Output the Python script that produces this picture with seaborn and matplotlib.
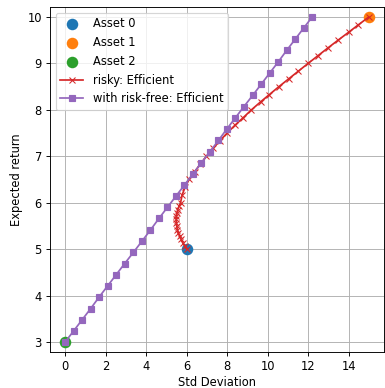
import numpy as np
import pandas as pd
import matplotlib
matplotlib.use("Agg")
import matplotlib.pyplot as plt
import seaborn as sns

# Individual assets
asset_names = ["Asset 0", "Asset 1", "Asset 2"]
asset_std = [6.0, 15.0, 0.0]
asset_ret = [5.0, 10.0, 3.0]

# Risky efficient frontier (std, return)
risky_std = [6.00, 5.90, 5.81, 5.73, 5.65, 5.59, 5.54, 5.51, 5.49, 5.48, 5.49, 5.52,
             5.56, 5.62, 5.70, 5.78, 5.92, 6.12, 6.40, 6.68, 6.98, 7.30, 7.63, 8.00,
             8.39, 8.79, 9.20, 9.65, 10.09, 10.56, 11.05, 11.51, 12.00, 12.50, 12.97,
             13.48, 14.00, 14.48, 15.00]
risky_ret = [5.00, 5.07, 5.14, 5.21, 5.28, 5.35, 5.42, 5.50, 5.57, 5.64, 5.71, 5.78,
             5.85, 5.92, 6.00, 6.17, 6.33, 6.50, 6.67, 6.83, 7.00, 7.17, 7.33, 7.50,
             7.67, 7.83, 8.00, 8.17, 8.33, 8.50, 8.67, 8.83, 9.00, 9.17, 9.33,
             9.50, 9.67, 9.83, 10.00]

# Efficient frontier with risk-free asset (std, return)
rf_std = [0.00, 0.42, 0.84, 1.26, 1.68, 2.10, 2.52, 2.94, 3.37, 3.79, 4.21, 4.63,
          5.05, 5.47, 5.89, 6.31, 6.73, 7.15, 7.57, 7.99, 8.41, 8.83, 9.26, 9.68,
          10.10, 10.52, 10.94, 11.36, 11.78, 12.20]
rf_ret = [3.00, 3.24, 3.48, 3.72, 3.97, 4.21, 4.45, 4.69, 4.93, 5.17, 5.41, 5.66,
          5.90, 6.14, 6.38, 6.62, 6.86, 7.10, 7.34, 7.59, 7.83, 8.07, 8.31, 8.55,
          8.79, 9.03, 9.28, 9.52, 9.76, 10.00]

DPI = 83
fig = plt.figure(figsize=(385 / DPI, 388 / DPI), dpi=DPI)
ax = fig.add_axes([50 / 385, (388 - 352.3) / 388, 334 / 385, (352.3 - 7) / 388])

asset_colors = ["#1f77b4", "#ff7f0e", "#2ca02c"]
for name, s, r, c in zip(asset_names, asset_std, asset_ret, asset_colors):
    sns.scatterplot(x=[s], y=[r], color=c, s=100, linewidth=0, label=name, ax=ax, zorder=2)

risky = pd.DataFrame({"std": risky_std, "ret": risky_ret})
withrf = pd.DataFrame({"std": rf_std, "ret": rf_ret})

sns.lineplot(data=risky, x="std", y="ret", sort=False, estimator=None, color="#d62728",
             marker="x", markersize=6, mec="#d62728", mew=0.9, linewidth=1.5,
             label="risky: Efficient", ax=ax, zorder=3)
sns.lineplot(data=withrf, x="std", y="ret", sort=False, estimator=None, color="#9467bd",
             marker="s", markersize=6, mec="#9467bd", mew=1.0, linewidth=1.5,
             label="with risk-free: Efficient", ax=ax, zorder=3)

ax.set_xlim(-0.75, 15.75)
ax.set_ylim(2.778, 10.215)
ax.set_xticks([0, 2, 4, 6, 8, 10, 12, 14])
ax.set_yticks([3, 4, 5, 6, 7, 8, 9, 10])
ax.grid(True, color="#b0b0b0", linewidth=0.8)
ax.set_axisbelow(True)
ax.set_xlabel("Std Deviation", labelpad=2.5)
ax.set_ylabel("Expected return")
ax.legend(loc="upper left")

fig.savefig("out.png", dpi=DPI)
